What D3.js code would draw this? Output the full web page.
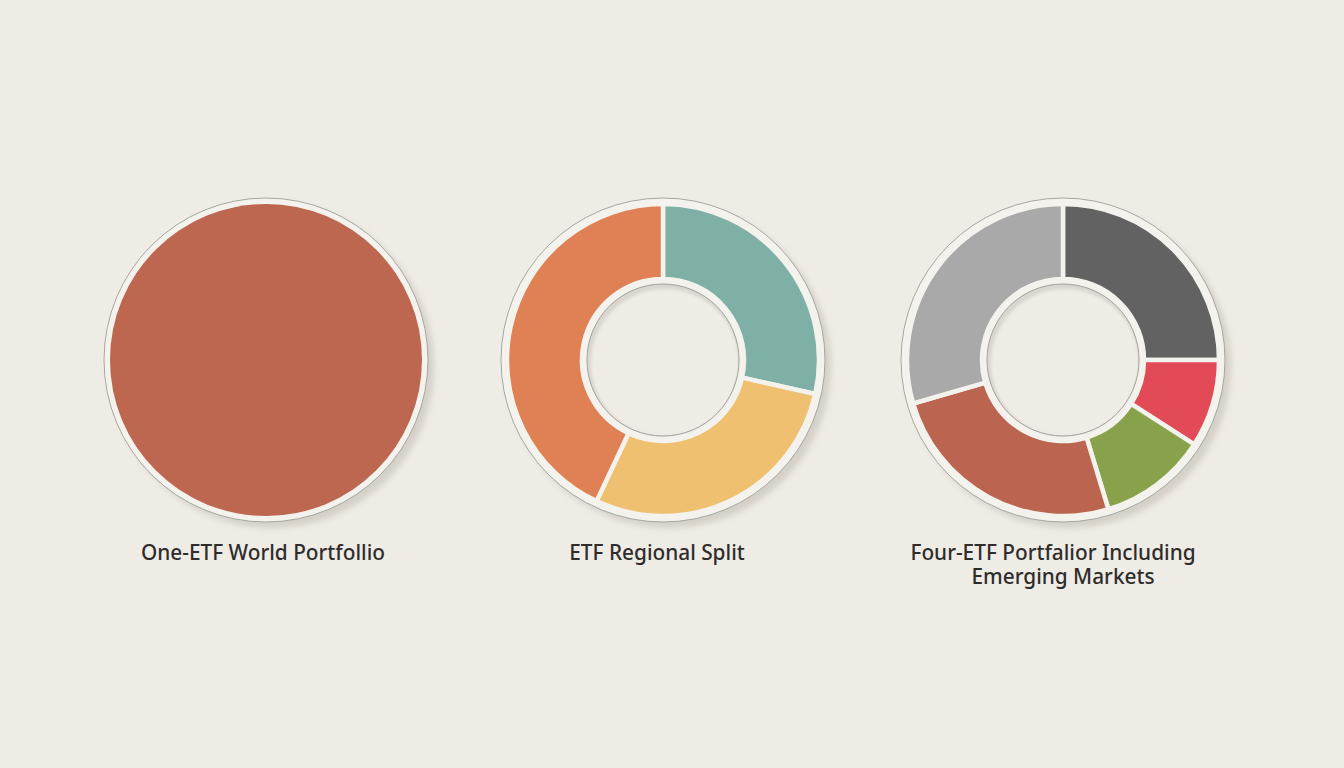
<!DOCTYPE html>
<html>
<head>
<meta charset="utf-8">
<script src="https://cdn.jsdelivr.net/npm/d3@7"></script>
<style>
  html, body { margin: 0; padding: 0; background: #efece6; }
  svg { display: block; }
</style>
</head>
<body>
<svg id="chart" width="1344" height="768"></svg>
<script>
// chart values
var titles = [
  ["One-ETF World Portfollio"],
  ["ETF Regional Split"],
  ["Four-ETF Portfalior Including", "Emerging Markets"]
];
var worldNames = ["World ETF"];
var worldValues = [100];
var worldColors = ["#bd6650"];

var regionNames = ["Region A", "Region B", "Region C"];
var regionValues = [28.5, 28.5, 43];
var regionColors = ["#7eb0a6", "#eec070", "#e08055"];

var fourNames = ["ETF 1", "ETF 2", "ETF 3", "ETF 4", "ETF 5"];
var fourValues = [25, 9.1, 11.2, 25.2, 29.5];
var fourColors = ["#626262", "#e34a58", "#88a24b", "#bb6551", "#a9a9a9"];

var charts = [
  {names: worldNames, values: worldValues, colors: worldColors, cx: 266, inner: 0, title: titles[0], tx: 263},
  {names: regionNames, values: regionValues, colors: regionColors, cx: 663, inner: 81, title: titles[1], tx: 657},
  {names: fourNames, values: fourValues, colors: fourColors, cx: 1063, inner: 81, title: titles[2], tx: 1053}
];

var svg = d3.select("#chart"),
    cy = 360,
    outerR = 156,
    ringR = 162;

var defs = svg.append("defs");
defs.append("filter")
  .attr("id", "blur")
  .attr("x", "-20%").attr("y", "-20%").attr("width", "140%").attr("height", "140%")
  .append("feGaussianBlur").attr("stdDeviation", 3);
defs.append("filter")
  .attr("id", "blurSmall")
  .append("feGaussianBlur").attr("stdDeviation", 1.5);

var pie = d3.pie().sort(null);

charts.forEach(function(c) {
  var g = svg.append("g").attr("transform", `translate(${c.cx},${cy})`);

  // soft drop shadow behind the disc
  g.append("circle")
    .attr("cx", 6).attr("cy", 6)
    .attr("r", ringR)
    .attr("fill", "#d4d0c8")
    .attr("filter", "url(#blur)");

  // outer cream ring with thin grey edge
  g.append("circle")
    .attr("r", ringR)
    .attr("fill", "#f4f2ed")
    .attr("stroke", "#a8a6a2")
    .attr("stroke-width", 1);

  var arc = d3.arc().innerRadius(c.inner).outerRadius(outerR);
  var arcs = pie(c.values);

  g.selectAll("path.slice")
    .data(arcs)
    .enter().append("path")
    .attr("class", "slice")
    .attr("d", arc)
    .attr("fill", (d, i) => c.colors[i])
    .attr("stroke", c.values.length > 1 ? "#f4f2ed" : "none")
    .attr("stroke-width", 4.5)
    .attr("stroke-linejoin", "miter");

  if (c.inner > 0) {
    // hole: cream band, inner shadow, thin grey rim
    g.append("circle")
      .attr("r", c.inner)
      .attr("fill", "#f4f2ed");
    g.append("circle")
      .attr("r", c.inner - 5)
      .attr("fill", "#d9d6cf");
    g.append("circle")
      .attr("cx", 2).attr("cy", 3)
      .attr("r", c.inner - 7)
      .attr("fill", "#efece6")
      .attr("filter", "url(#blurSmall)");
    g.append("circle")
      .attr("r", c.inner - 5)
      .attr("fill", "none")
      .attr("stroke", "#a3a19d")
      .attr("stroke-width", 1);
  }

  var label = svg.append("text")
    .attr("text-anchor", "middle")
    .attr("font-family", "'Noto Sans', 'Open Sans', sans-serif")
    .attr("font-size", "20.8px")
    .attr("font-weight", 500)
    .attr("fill", "#2e2d2b");
  c.title.forEach(function(line, i) {
    label.append("tspan")
      .attr("x", i === 0 ? c.tx : c.cx)
      .attr("y", 560 + i * 24)
      .text(line);
  });
});
</script>
</body>
</html>
